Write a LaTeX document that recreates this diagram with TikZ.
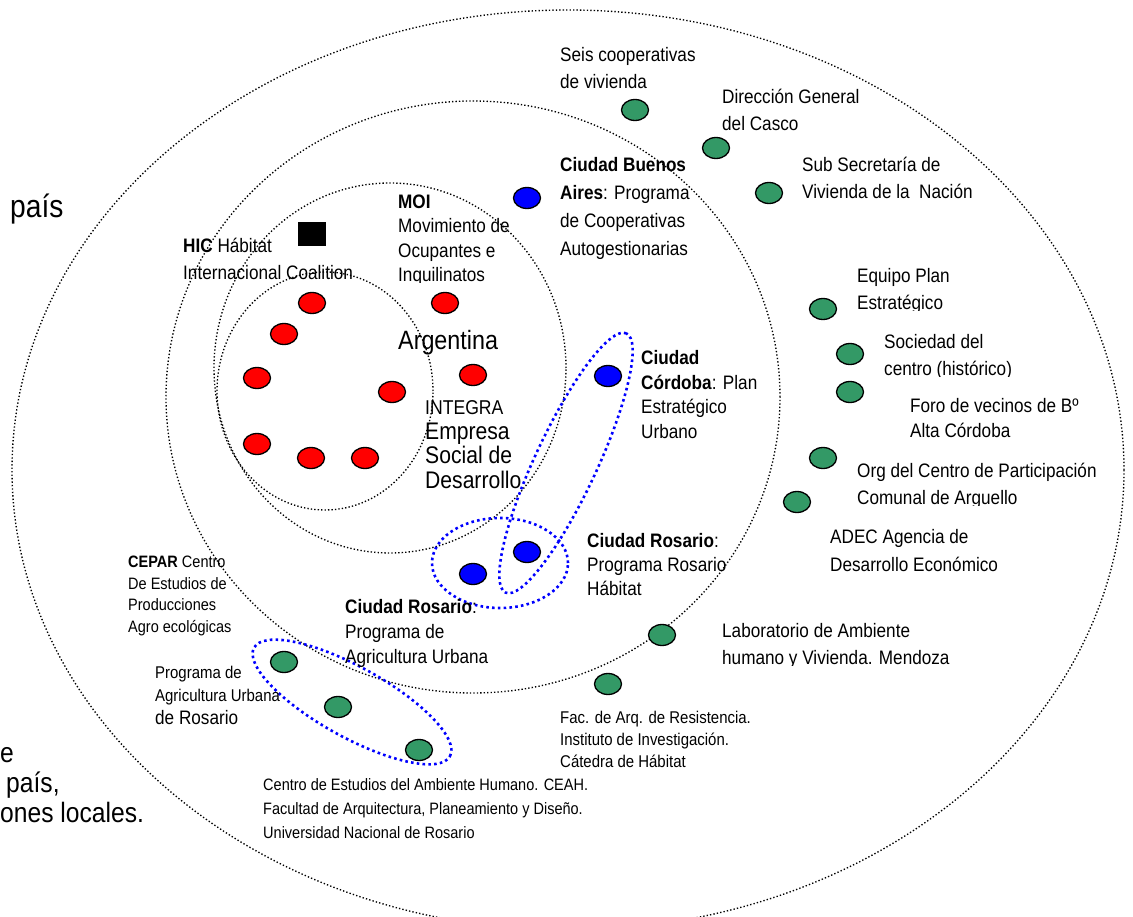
\documentclass[tikz,border=0pt]{standalone}
\usepackage{fontspec}
\setmainfont[FakeStretch=0.88]{Liberation Sans}
\usetikzlibrary{shapes.geometric}
\definecolor{dgreen}{RGB}{51,153,102}
\begin{document}
\begin{tikzpicture}[x=1pt,y=-1pt,
  ring/.style={line width=1.35pt, dash pattern=on 1.35pt off 2.1pt},
  bloop/.style={blue, line width=2.6pt, dash pattern=on 2.6pt off 3.2pt},
  dot/.style={ellipse, draw=black, line width=1.3pt, minimum width=27pt, minimum height=21pt, inner sep=0pt},
  rdot/.style={dot, fill=red},
  bdot/.style={dot, fill=blue},
  gdot/.style={dot, fill=dgreen},
  lab/.style={anchor=base west, align=left, inner sep=0pt, font=\fontsize{19.5}{27}\selectfont},
  big/.style={anchor=base west, inner sep=0pt, font=\fontsize{28}{30}\selectfont}
]
\useasboundingbox (0,0) rectangle (1133,917);
\clip (0,0) rectangle (1133,917);
\fill[white] (0,0) rectangle (1133,917);

% rings
\draw[ring] (568,470) ellipse [x radius=556pt, y radius=460pt];
\draw[ring] (473,397) ellipse [x radius=307pt, y radius=296pt];
\draw[ring] (390,368) ellipse [x radius=176pt, y radius=185pt];
\draw[ring] (325,391) ellipse [x radius=108pt, y radius=119pt];

% blue dotted loops
\draw[bloop, rotate around={65:(566,463)}] (566,463) ellipse [x radius=143pt, y radius=31pt];
\draw[bloop] (500,563) ellipse [x radius=68pt, y radius=45pt];
\draw[bloop, rotate around={-29:(352,702)}] (352,702) ellipse [x radius=112pt, y radius=35pt];

% red nodes
\node[rdot] (r1) at (312,303) {};
\node[rdot] (r2) at (284,334) {};
\node[rdot] (r3) at (257,378) {};
\node[rdot] (r4) at (392,392) {};
\node[rdot] (r5) at (257,444) {};
\node[rdot] (r6) at (311,458) {};
\node[rdot] (r7) at (365,458) {};
\node[rdot] (r8) at (445,303) {};
\node[rdot] (r9) at (473,375) {};

% HIC square
\node[fill=black, minimum width=28pt, minimum height=24pt, inner sep=0pt] (hicsq) at (312,234) {};

% blue nodes
\node[bdot] (bba) at (527,198) {};
\node[bdot] (bcor) at (608,376) {};
\node[bdot] (bros1) at (527,552) {};
\node[bdot] (bros2) at (473,574) {};

% green nodes
\node[gdot] (g1) at (635,110) {};
\node[gdot] (g2) at (716,148) {};
\node[gdot] (g3) at (769,193) {};
\node[gdot] (g4) at (823,309) {};
\node[gdot] (g5) at (850,354) {};
\node[gdot] (g6) at (850,392) {};
\node[gdot] (g7) at (823,458) {};
\node[gdot] (g8) at (797,502) {};
\node[gdot] (g9) at (662,635) {};
\node[gdot] (g10) at (608,684) {};
\node[gdot] (g11) at (284,662) {};
\node[gdot] (g12) at (338,707) {};
\node[gdot] (g13) at (419,750) {};

% labels (anchored at the baseline of their last line)
\node[lab] (tseis) at (560,89) {Seis cooperativas\\de vivienda};
\begin{scope}
\clip (700,70) rectangle (1000,132);
\node[lab, font=\fontsize{19.5}{27.5}\selectfont] (tdir) at (722,131) {Dirección General\\del Casco};
\end{scope}
\begin{scope}
\clip (780,140) rectangle (1133,200);
\node[lab] (tsub) at (802,199) {Sub Secretaría de\\Vivienda de la \ Nación};
\end{scope}
\node[lab, font=\fontsize{19.5}{28}\selectfont] (tcba) at (560,256) {\textbf{Ciudad Buenos}\\\textbf{Aires}: Programa\\de Cooperativas\\Autogestionarias};
\begin{scope}
\clip (840,250) rectangle (1100,311);
\node[lab] (tepe) at (857,310) {Equipo Plan\\Estratégico};
\end{scope}
\begin{scope}
\clip (870,320) rectangle (1100,377);
\node[lab] (tsoc) at (884,376) {Sociedad del\\centro (histórico)};
\end{scope}
\node[lab, font=\fontsize{19.5}{25}\selectfont] (tforo) at (910,437) {Foro de vecinos de Bº\\Alta Córdoba};
\begin{scope}
\clip (840,450) rectangle (1133,505);
\node[lab] (torg) at (857,504) {Org del Centro de Participación\\Comunal de Arguello};
\end{scope}
\begin{scope}
\clip (815,515) rectangle (1100,572);
\node[lab, font=\fontsize{19.5}{28}\selectfont] (tadec) at (830,571) {ADEC Agencia de\\Desarrollo Económico};
\end{scope}
\begin{scope}
\clip (700,610) rectangle (1100,665);
\node[lab] (tlab) at (722,664) {Laboratorio de Ambiente\\humano y Vivienda. Mendoza};
\end{scope}
\node[lab, font=\fontsize{17}{22}\selectfont] (tfac) at (560,767) {Fac. de Arq. de Resistencia.\\Instituto de Investigación.\\Cátedra de Hábitat};
\node[lab, font=\fontsize{16.5}{24}\selectfont] (tceah) at (263,838) {Centro de Estudios del Ambiente Humano. CEAH.\\Facultad de Arquitectura, Planeamiento y Diseño.\\Universidad Nacional de Rosario};
\node[lab, font=\fontsize{16.5}{21.5}\selectfont] (tcepar) at (128,632) {\textbf{CEPAR} Centro\\De Estudios de\\Producciones\\Agro ecológicas};
\node[lab, font=\fontsize{19.5}{25}\selectfont] (trau) at (345,663) {\textbf{Ciudad Rosario}:\\Programa de\\Agricultura Urbana};
\node[lab, font=\fontsize{17}{22.5}\selectfont] (tpaur) at (155,701) {Programa de\\Agricultura Urbana};
\node[lab] (tpaur2) at (155,724) {de Rosario};
\begin{scope}
\clip (630,330) rectangle (800,439);
\node[lab, font=\fontsize{19.5}{24.5}\selectfont] (tcor) at (641,438) {\textbf{Ciudad}\\\textbf{Córdoba}: Plan\\Estratégico\\Urbano};
\end{scope}
\begin{scope}
\clip (415,380) rectangle (560,489);
\node[lab, font=\fontsize{24}{24.5}\selectfont] (tint) at (425,488) {{\fontsize{20}{24.5}\selectfont INTEGRA}\\Empresa\\Social de\\Desarrollo};
\end{scope}
\node[big, font=\fontsize{26.5}{30}\selectfont] (targ) at (398,350) {Argentina};
\node[lab] (thic) at (183,280) {\textbf{HIC} Hábitat\\Internacional Coalition};
\begin{scope}
\clip (385,180) rectangle (560,283);
\node[lab, font=\fontsize{19.5}{24.5}\selectfont] (tmoi) at (398,282) {\textbf{MOI}\\Movimiento de\\Ocupantes e\\Inquilinatos};
\end{scope}
\node[lab, font=\fontsize{19.5}{24}\selectfont] (trh) at (587,595) {\textbf{Ciudad Rosario}:\\Programa Rosario\\Hábitat};

% large side texts
\node[big, font=\fontsize{32}{34}\selectfont] (tpais) at (10,218) {país};
\node[big] (te) at (0,762) {e};
\node[big] (tpais2) at (6,792) {país,};
\node[big] (tloc) at (0,822) {ones locales.};
\end{tikzpicture}
\end{document}
